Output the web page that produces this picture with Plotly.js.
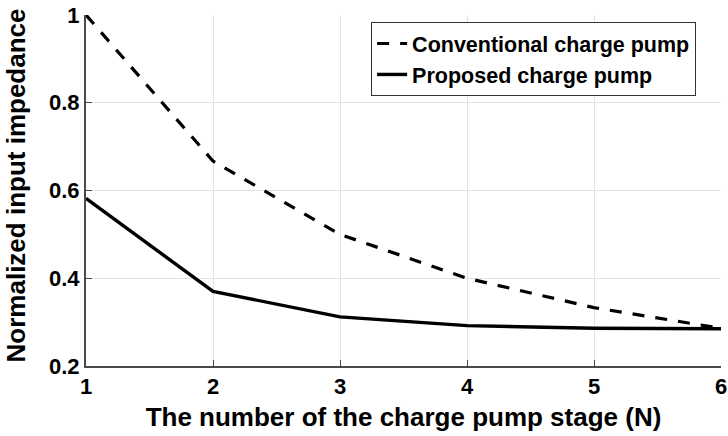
<!DOCTYPE html>
<html>
<head>
<meta charset="utf-8">
<script src="https://cdn.plot.ly/plotly-3.0.1.min.js"></script>
<style>
  html, body { margin: 0; padding: 0; background: #fff; }
  #chart { width: 728px; height: 436px; }
</style>
</head>
<body>
<div id="chart"></div>
<script>
// Number of charge pump stages
const stages = [1, 2, 3, 4, 5, 6];
// Normalized input impedance of each topology
const conventional = [1.0, 0.667, 0.5, 0.4, 0.333, 0.286];
const proposed = [0.582, 0.370, 0.312, 0.292, 0.286, 0.285];

const FONT = 'Liberation Sans, Arial, Helvetica, sans-serif';

const traces = [
  {
    x: stages, y: conventional, type: 'scatter', mode: 'lines',
    name: 'Conventional charge pump', legendgroup: 'a',
    line: { color: '#000', width: 3.2, dash: '12px,11px' }
  },
  {
    x: stages, y: proposed, type: 'scatter', mode: 'lines',
    name: 'Proposed charge pump', legendgroup: 'b',
    line: { color: '#000', width: 3.4 }
  }
];

const axisCommon = {
  showline: true, linecolor: '#4a4a4a', linewidth: 2,
  showgrid: true, gridcolor: '#e3e3e3', gridwidth: 1,
  zeroline: false,
  ticks: 'inside', ticklen: 6, tickwidth: 1, tickcolor: '#4a4a4a',
  tickfont: { family: FONT, size: 22, color: '#000', weight: 'bold' },
  automargin: false
};

const layout = {
  width: 728, height: 436,
  margin: { l: 86, r: 7, t: 15, b: 70 },
  paper_bgcolor: '#fff', plot_bgcolor: '#fff',
  showlegend: true,
  xaxis: Object.assign({}, axisCommon, {
    range: [1, 6], tickvals: stages, ticktext: stages.map(String),
    title: { text: 'The number of the charge pump stage (N)', standoff: 9,
             font: { family: FONT, size: 26, color: '#000', weight: 'bold' } }
  }),
  yaxis: Object.assign({}, axisCommon, {
    range: [0.2, 1], tickvals: [0.2, 0.4, 0.6, 0.8, 1], ticktext: ['0.2', '0.4', '0.6', '0.8', '1']
  }),
  // vertical axis caption, placed close to the left edge
  annotations: [{
    text: 'Normalized input impedance', textangle: -90,
    xref: 'paper', yref: 'paper', x: -0.111, y: 0.513,
    xanchor: 'center', yanchor: 'middle', showarrow: false,
    font: { family: FONT, size: 26, color: '#000', weight: 'bold' }
  }],
  legend: {
    x: 0.449, y: 0.98, xanchor: 'left', yanchor: 'top',
    bgcolor: '#fff', bordercolor: '#333', borderwidth: 1,
    traceorder: 'grouped', tracegroupgap: 0,
    font: { family: FONT, size: 21.5, color: '#000', weight: 'bold' }
  }
};

Plotly.newPlot('chart', traces, layout, { displayModeBar: false, staticPlot: true });
</script>
</body>
</html>
